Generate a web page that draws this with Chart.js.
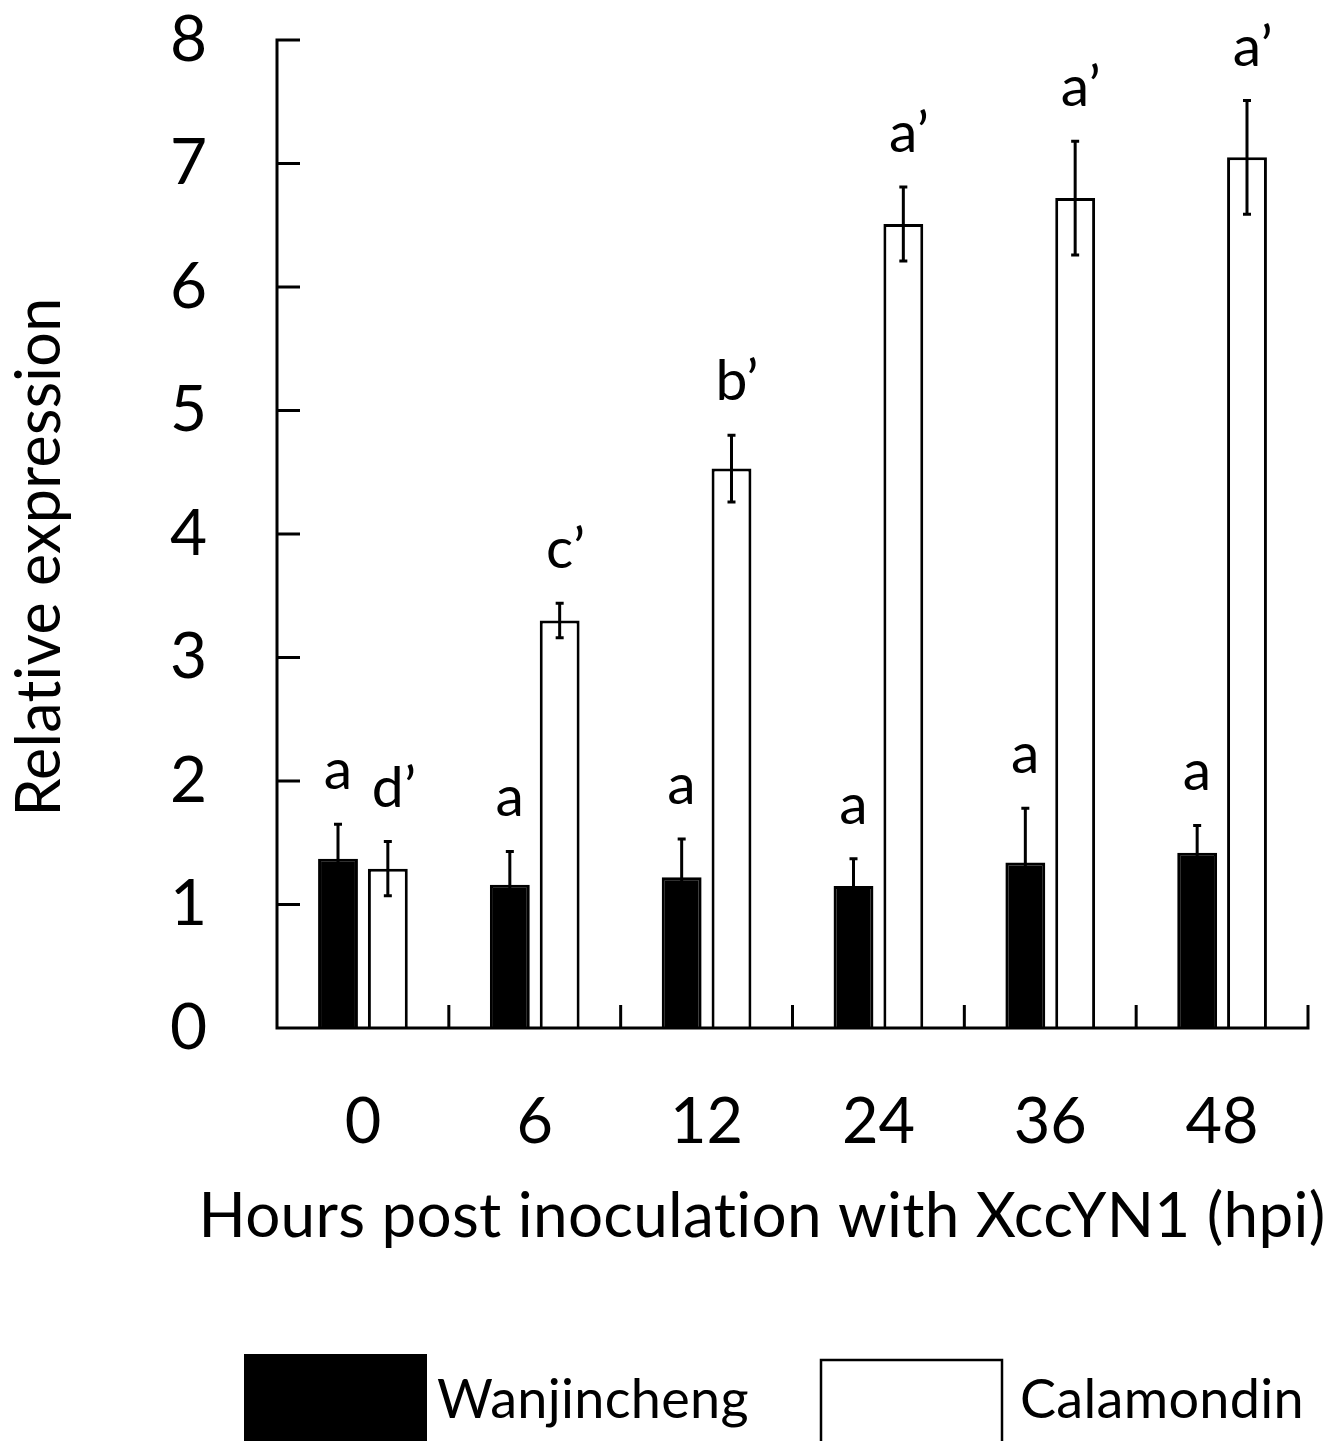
<!DOCTYPE html>
<html>
<head>
<meta charset="utf-8">
<script src="https://cdn.jsdelivr.net/npm/chart.js@4.4.0/dist/chart.umd.min.js"></script>
<style>
  html, body { margin: 0; padding: 0; background: #fff; }
  #wrap { width: 1335px; height: 1441px; position: relative; }
</style>
</head>
<body>
<div id="wrap"><canvas id="expr"></canvas></div>
<script>
// Data
const hours = ['0', '6', '12', '24', '36', '48'];
const wanjincheng = [1.37, 1.16, 1.22, 1.15, 1.34, 1.42];
const wanjinchengErr = [0.28, 0.27, 0.31, 0.22, 0.44, 0.22];
const calamondin = [1.29, 3.30, 4.53, 6.51, 6.72, 7.05];
const calamondinErr = [0.22, 0.14, 0.27, 0.30, 0.46, 0.46];
const wanjinchengLetters = ['a', 'a', 'a', 'a', 'a', 'a'];
const calamondinLetters = ['d’', 'c’', 'b’', 'a’', 'a’', 'a’'];
const yTicks = [0, 1, 2, 3, 4, 5, 6, 7, 8];

const FONT = 'Lato, "Open Sans", sans-serif';

// axes, error bars, letters, titles and legend
const figurePlugin = {
    id: 'figure',
    afterDatasetsDraw(chart) {
        const ctx = chart.ctx;
        const area = chart.chartArea;
        const y = chart.scales.y;
        ctx.save();
        ctx.strokeStyle = '#000';
        ctx.fillStyle = '#000';
        ctx.lineWidth = 3;
        ctx.lineCap = 'butt';
        ctx.letterSpacing = '0.3px'; // keeps Lato from making "ti" ligatures

        // error bars + letters
        const errs = [wanjinchengErr, calamondinErr];
        const letters = [wanjinchengLetters, calamondinLetters];
        ctx.font = '57px ' + FONT;
        ctx.textBaseline = 'alphabetic';
        chart.data.datasets.forEach((ds, di) => {
            const meta = chart.getDatasetMeta(di);
            meta.data.forEach((bar, i) => {
                const v = ds.data[i];
                const e = errs[di][i];
                const cx = bar.x;
                const yTop = y.getPixelForValue(v + e);
                const yLow = y.getPixelForValue(v - e);
                ctx.beginPath();
                ctx.moveTo(cx, yTop);
                ctx.lineTo(cx, yLow);
                ctx.moveTo(cx - 4, yTop);
                ctx.lineTo(cx + 4, yTop);
                ctx.moveTo(cx - 4, yLow);
                ctx.lineTo(cx + 4, yLow);
                ctx.stroke();

                const txt = letters[di][i];
                const baseW = ctx.measureText(txt.charAt(0)).width;
                ctx.textAlign = 'left';
                ctx.fillText(txt, cx - baseW / 2, yTop - 35);
            });
        });

        // y axis line and inward ticks
        ctx.beginPath();
        ctx.moveTo(area.left, area.top - 1.5);
        ctx.lineTo(area.left, area.bottom + 1.5);
        yTicks.forEach(t => {
            const py = y.getPixelForValue(t);
            ctx.moveTo(area.left, py);
            ctx.lineTo(area.left + 23, py);
        });
        // x axis line and category boundary ticks
        ctx.moveTo(area.left - 1.5, area.bottom);
        ctx.lineTo(area.right + 1.5, area.bottom);
        const step = (area.right - area.left) / hours.length;
        for (let i = 1; i <= hours.length; i++) {
            const px = area.left + step * i;
            ctx.moveTo(px, area.bottom);
            ctx.lineTo(px, area.bottom - 23);
        }
        ctx.stroke();

        // axis titles
        ctx.font = '62px ' + FONT;
        ctx.textAlign = 'center';
        ctx.fillText('Hours post inoculation with XccYN1 (hpi)', 762, 1237);
        ctx.save();
        ctx.translate(60, 557);
        ctx.rotate(-Math.PI / 2);
        ctx.font = '61px ' + FONT;
        ctx.fillText('Relative expression', 0, 0);
        ctx.restore();

        // legend
        ctx.fillRect(244, 1354, 183, 100);
        ctx.lineWidth = 2.5;
        ctx.strokeRect(821, 1360, 181, 100);
        ctx.font = '54px ' + FONT;
        ctx.textAlign = 'left';
        ctx.fillText('Wanjincheng', 437, 1418);
        ctx.fillText('Calamondin', 1020, 1418);
        ctx.restore();
    }
};

const ctx = document.getElementById('expr').getContext('2d');
const exprChart = new Chart(ctx, {
    type: 'bar',
    data: {
        labels: hours,
        datasets: [{
            label: 'Wanjincheng',
            data: wanjincheng,
            backgroundColor: '#000',
            borderColor: '#000',
            borderWidth: 3,
            categoryPercentage: 0.58,
            barPercentage: 0.8
        }, {
            label: 'Calamondin',
            data: calamondin,
            backgroundColor: '#fff',
            borderColor: '#000',
            borderWidth: 3,
            categoryPercentage: 0.58,
            barPercentage: 0.8
        }]
    },
    options: {
        responsive: true,
        maintainAspectRatio: false,
        animation: false,
        layout: { padding: { top: 40, right: 27, left: 0, bottom: 0 } },
        plugins: {
            legend: { display: false },
            tooltip: { enabled: false }
        },
        scales: {
            x: {
                grid: { display: false, drawTicks: false },
                border: { display: false },
                ticks: { color: '#000', font: { family: FONT, size: 63 }, padding: 57 },
                afterFit(scale) { scale.height = 413; }
            },
            y: {
                min: 0,
                max: 8,
                grid: { display: false, drawTicks: false },
                border: { display: false },
                ticks: { stepSize: 1, color: '#000', font: { family: FONT, size: 64 }, padding: 70 },
                afterFit(scale) {
                    scale.width = 277;
                    scale.paddingTop = 0;
                    scale.paddingBottom = 0;
                }
            }
        }
    },
    plugins: [figurePlugin]
});
</script>
</body>
</html>
